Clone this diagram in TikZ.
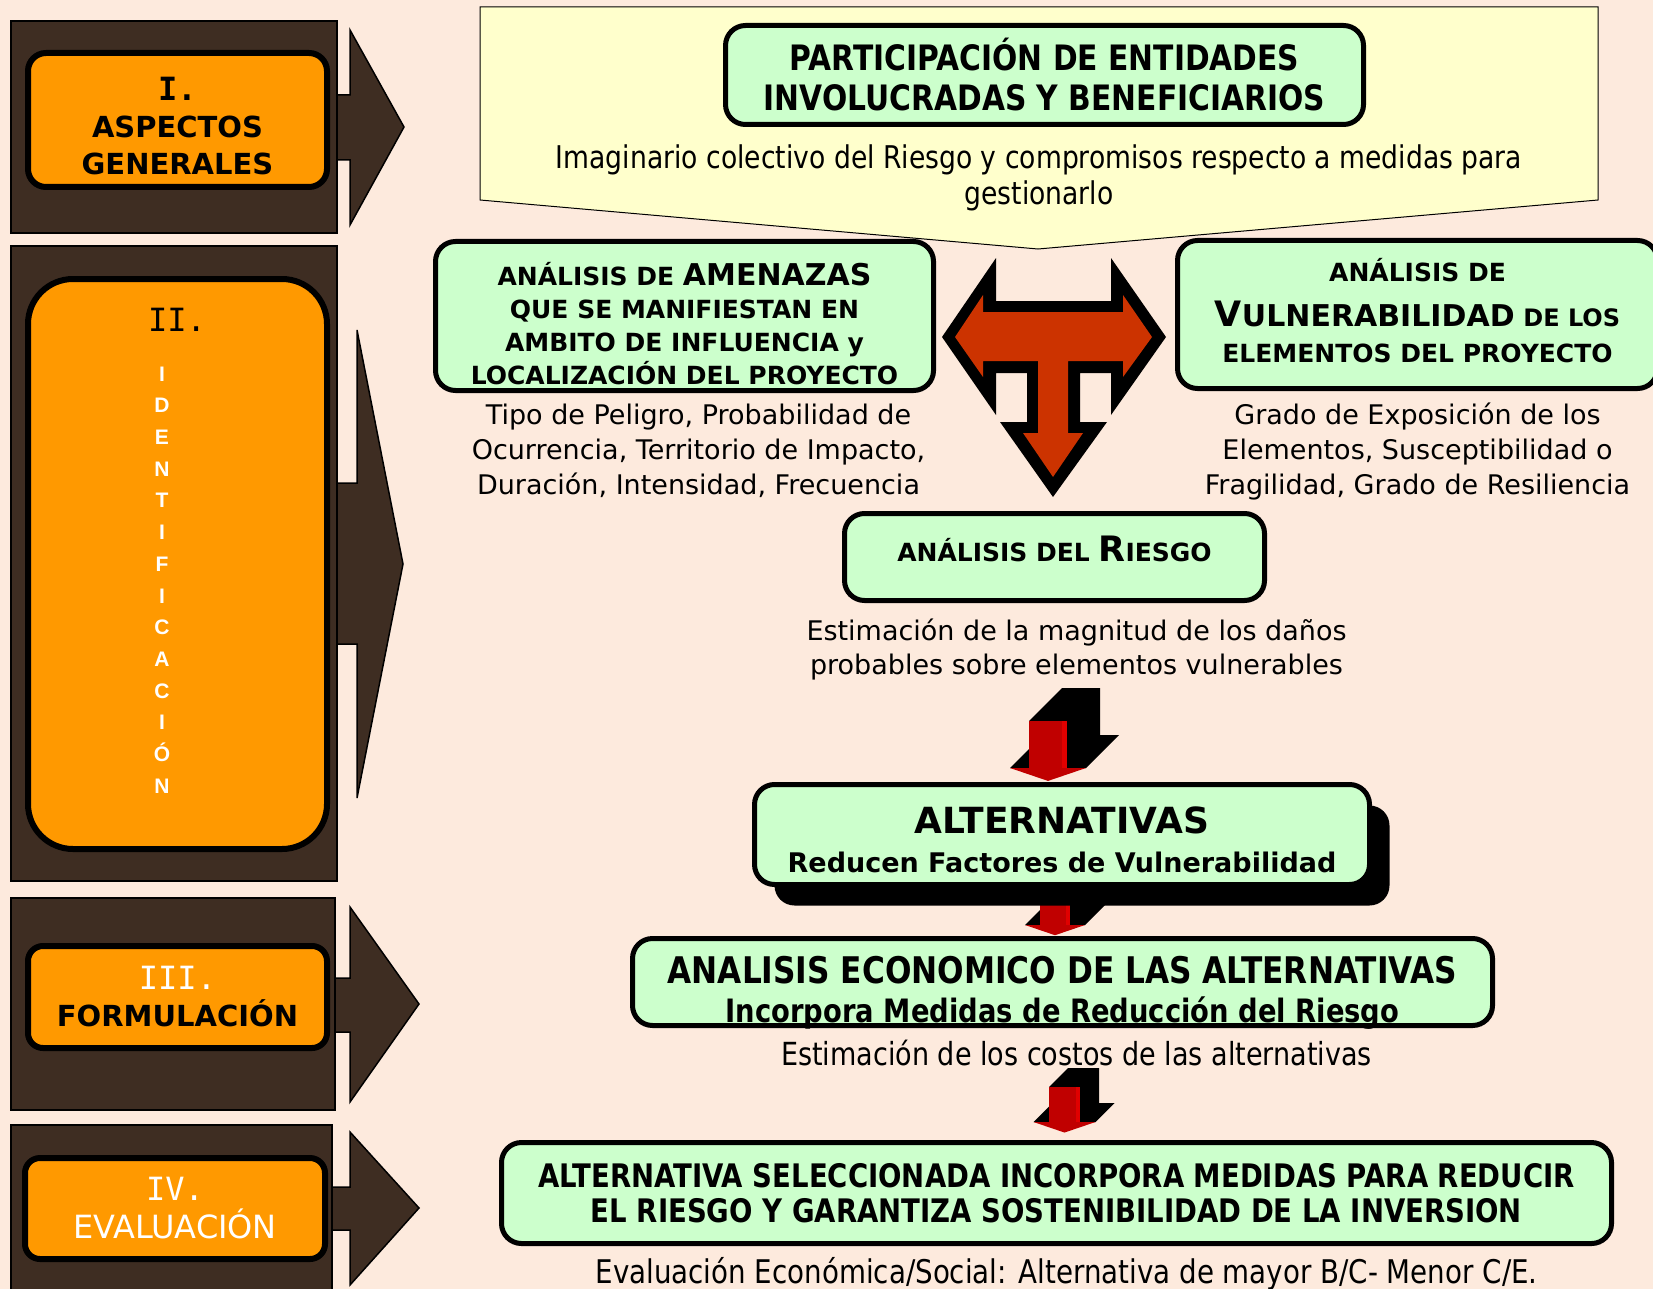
\documentclass[tikz,border=0pt]{standalone}
\usepackage{fontspec}
\setmainfont{DejaVu Sans}
\newfontfamily\narrowfont[FakeStretch=0.85]{DejaVu Sans}
\newfontfamily\numfont{DejaVu Sans Mono}
\newfontfamily\letterfont{Liberation Sans}
\usetikzlibrary{positioning,calc,shadows}
\definecolor{peach}{RGB}{253,234,221}
\definecolor{woodbrown}{RGB}{62,45,34}
\definecolor{phaseorange}{RGB}{255,153,0}
\definecolor{boxgreen}{RGB}{204,255,204}
\definecolor{boxyellow}{RGB}{255,255,204}
\definecolor{tred}{RGB}{204,51,0}
\definecolor{arrowred}{RGB}{192,0,0}
%% 3d arrow: centre x, stem top, stem bottom, stem half width, depth
\newcommand{\droparrow}[5]{%
  \fill[black] ({#1-2*#4},#3) -- ({#1-#4},{#3-#4}) -- ({#1-#4},#2)
    -- ({#1-#4+#5},{#2-#5}) -- ({#1+#4+#5},{#2-#5}) -- ({#1+#4+#5},{#3-#5})
    -- ({#1+2*#4+#5},{#3-#5}) -- ({#1+2*#4},#3) -- cycle;
  \fill[arrowred] ({#1-#4},#2) rectangle ({#1+#4},#3);
  \fill[red!88!black] ({#1+0.75*#4},#2) rectangle ({#1+#4},#3);
  \fill[arrowred] ({#1-2*#4},#3) -- ({#1+2*#4},#3) -- (#1,{#3+0.68*#4}) -- cycle;}
%% struts to move text inside a box
\newcommand{\uplift}[1]{\rule{0pt}{#1}}
\newcommand{\downlift}[1]{\rule[-#1]{0pt}{#1}}

\begin{document}
\begin{tikzpicture}
[x=1pt,y=-1pt,
    wood/.style={fill=woodbrown,draw=black,line width=1.5pt},
    phase/.style={draw=black,fill=phaseorange,line width=6pt,rounded corners=18pt,
    inner sep=0pt,align=center,font=\bfseries\fontsize{29}{37}\selectfont},
    cbox/.style={draw=black,fill=boxgreen,line width=5pt,rounded corners=20pt,
    inner sep=0pt,align=center,font=\bfseries},
    desc/.style={align=center,inner sep=0pt,font=\fontsize{27}{35}\selectfont},
    ndesc/.style={align=center,inner sep=0pt,font=\narrowfont\fontsize{32}{36}\selectfont},
    vletters/.style={align=center,inner sep=0pt,text=white,
    font=\letterfont\bfseries\fontsize{21}{31.7}\selectfont}]
%%%%%%%%%%
\clip (0,0) rectangle (1653,1289);
\fill[peach] (0,0) rectangle (1653,1289);
%% stage column
\draw[wood] (330,95) -- (350,95) -- (350,30) -- (404,127) -- (350,225) -- (350,160) -- (330,160) -- cycle;
\draw[wood] (11,21) rectangle (337,233);
\draw[wood] (330,483) -- (357,483) -- (357,330) -- (403,564) -- (357,798) -- (357,644) -- (330,644) -- cycle;
\draw[wood] (11,246) rectangle (337,881);
\draw[wood] (328,978) -- (350,978) -- (350,907) -- (419,1004) -- (350,1102) -- (350,1032) -- (328,1032) -- cycle;
\draw[wood] (11,898) rectangle (335,1110);
\draw[wood] (325,1187) -- (350,1187) -- (350,1132) -- (419,1208) -- (350,1285) -- (350,1230) -- (325,1230) -- cycle;
\draw[wood] (11,1125) rectangle (332,1300);
%%
\node (gen) [phase,minimum width=299pt,minimum height=134pt] at (177.5,120)
{\uplift{35pt}{\numfont\fontsize{32}{37}\selectfont I.}\\ASPECTOS\\GENERALES};
\node (ident) [phase,rounded corners=45pt,minimum width=299pt,minimum height=570pt] at (177.5,564) {};
\node (num2) at (177,320) {\numfont\fontsize{32}{36}\selectfont II.};
\node (vert) [vletters] at (162,580) {I\\D\\E\\N\\T\\I\\F\\I\\C\\A\\C\\I\\Ó\\N};
\node (form) [phase,rounded corners=15pt,minimum width=299pt,minimum height=102pt] at (177.5,997)
{{\numfont\mdseries\color{white}\fontsize{32}{39}\selectfont III.}\\FORMULACIÓN};
\node (eval) [phase,rounded corners=15pt,minimum width=300pt,minimum height=101pt,text=white,
font=\fontsize{32}{38}\selectfont] at (175,1208.5) {{\numfont IV.}\\EVALUACIÓN};
%% participation
\fill[boxyellow,draw=black,line width=1pt] (480,7) -- (1598,7) -- (1598,200) -- (1038,249) -- (480,200) -- cycle;
\node (part) [cbox,minimum width=638pt,minimum height=99pt,
font=\narrowfont\bfseries\fontsize{35}{40}\selectfont] at (1044.5,75)
{PARTICIPACIÓN DE ENTIDADES\\INVOLUCRADAS Y BENEFICIARIOS};
\node (imag) [ndesc,font=\narrowfont\fontsize{31.3}{36}\selectfont] at (1039,178)
{Imaginario colectivo del Riesgo y compromisos respecto a medidas para\\gestionarlo};
%% T arrow
\fill[black] (942,337) -- (996,258) -- (996,301) -- (1111,301) -- (1111,258) -- (1166,337)
  -- (1111,415) -- (1111,373) -- (1080,373) -- (1080,422) -- (1107,422) -- (1053,497)
  -- (1000,422) -- (1027,422) -- (1027,373) -- (996,373) -- (996,415) -- cycle;
\fill[tred] (955,337) -- (983,295) -- (983,312) -- (1123,312) -- (1123,295) -- (1152,337)
  -- (1123,377) -- (1123,361) -- (1068,361) -- (1068,433) -- (1083,433) -- (1053,477)
  -- (1023,433) -- (1038,433) -- (1038,361) -- (983,361) -- (983,377) -- cycle;
%% hazard and vulnerability
\node (amen) [cbox,minimum width=498pt,minimum height=149pt,
font=\bfseries\fontsize{25}{33}\selectfont] at (684.5,316)
{\uplift{39pt}ANÁLISIS DE {\fontsize{30}{33}\selectfont AMENAZAS}\\QUE SE MANIFIESTAN EN\\AMBITO DE INFLUENCIA y\\LOCALIZACIÓN DEL PROYECTO};
\node (amendesc) [desc,below=11pt of amen,xshift=14pt]
{Tipo de Peligro, Probabilidad de\\Ocurrencia, Territorio de Impacto,\\Duración, Intensidad, Frecuencia};
\node (vuln) [cbox,minimum width=480pt,minimum height=148pt,
font=\bfseries\fontsize{25}{36}\selectfont] at (1417.5,314.5)
{ANÁLISIS DE\\[9pt]{\fontsize{35}{35}\selectfont V\fontsize{30}{35}\selectfont ULNERABILIDAD} {\fontsize{24}{35}\selectfont DE LOS}\\ELEMENTOS DEL PROYECTO\downlift{8pt}};
\node (vulndesc) [desc,below=12pt of vuln]
{Grado de Exposición de los\\Elementos, Susceptibilidad o\\Fragilidad, Grado de Resiliencia};
%% risk
\node (ries) [cbox,minimum width=420pt,minimum height=87pt,
font=\bfseries\fontsize{25}{30}\selectfont] at (1054.5,557)
{ANÁLISIS DEL {\fontsize{35}{30}\selectfont R}IESGO\downlift{17pt}};
\node (riesdesc) [desc,font=\fontsize{27}{34}\selectfont,below=16pt of ries,xshift=22pt]
{Estimación de la magnitud de los daños\\probables sobre elementos vulnerables};
\droparrow{1048}{721}{768}{19}{33}
%% alternatives
\droparrow{1055}{890}{925}{15}{20}
\node (alt) [cbox,drop shadow={shadow xshift=20pt,shadow yshift=-21pt,opacity=1,fill=black},
minimum width=615pt,minimum height=100pt,font=\bfseries\fontsize{27}{39}\selectfont] at (1062,834.5)
{\uplift{38pt}{\fontsize{36}{39}\selectfont ALTERNATIVAS}\\Reducen Factores de Vulnerabilidad};
\node (econ) [cbox,minimum width=860pt,minimum height=87pt,
font=\narrowfont\bfseries\fontsize{36.7}{39}\selectfont] at (1062.5,982)
{\uplift{41pt}ANALISIS ECONOMICO DE LAS ALTERNATIVAS\\\raisebox{0pt}[\height][0pt]{\fontsize{32.2}{39}\selectfont Incorpora Medidas de Reducción del Riesgo}};
\node (econdesc) [ndesc,font=\narrowfont\fontsize{31.8}{36}\selectfont,below=12pt of econ,xshift=14pt]
{Estimación de los costos de las alternativas};
\droparrow{1064.5}{1087}{1122}{15.5}{19}
%% selected alternative
\node (final) [cbox,minimum width=1110pt,minimum height=101pt,
font=\narrowfont\bfseries\fontsize{32.4}{35}\selectfont] at (1056.5,1193)
{ALTERNATIVA SELECCIONADA INCORPORA MEDIDAS PARA REDUCIR\\EL RIESGO Y GARANTIZA SOSTENIBILIDAD DE LA INVERSION};
\node (finaldesc) [ndesc,font=\narrowfont\fontsize{32.6}{36}\selectfont,below=11pt of final,xshift=10pt]
{Evaluación Económica/Social: Alternativa de mayor B/C- Menor C/E.};
\end{tikzpicture}
\end{document}
